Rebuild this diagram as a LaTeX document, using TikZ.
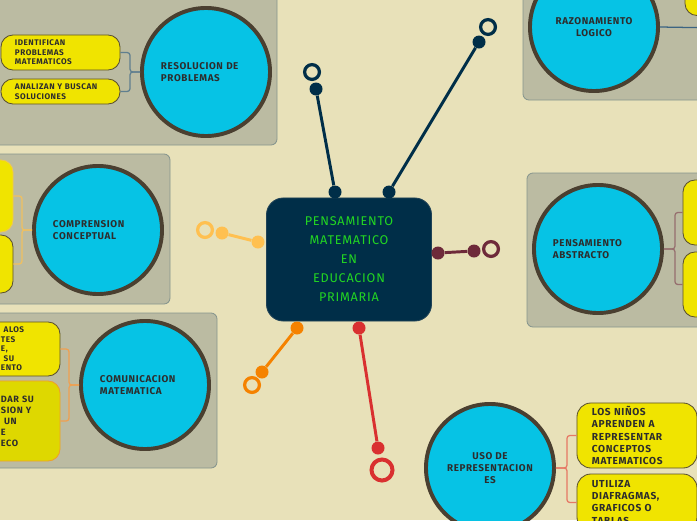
\documentclass[tikz,border=0pt]{standalone}
\usepackage{fontspec}
\setmainfont{Fira Sans}[LetterSpace=6]
\usepackage{xcolor}
\usepackage{tikz}
\usetikzlibrary{positioning}
\definecolor{bgcream}{RGB}{232,225,185}
\definecolor{panelgray}{RGB}{187,187,162}
\definecolor{panelline}{RGB}{135,150,142}
\definecolor{topiccyan}{RGB}{6,195,229}
\definecolor{topicrim}{RGB}{74,63,48}
\definecolor{labelink}{RGB}{45,45,45}
\definecolor{ideayellow}{RGB}{240,228,0}
\definecolor{ideadark}{RGB}{222,216,0}
\definecolor{idearim}{RGB}{90,80,48}
\definecolor{ideaorange}{RGB}{240,160,40}
\definecolor{idealight}{RGB}{240,200,80}
\definecolor{navy}{RGB}{0,46,72}
\definecolor{mintgreen}{RGB}{34,214,34}
\definecolor{sunyellow}{RGB}{255,192,80}
\definecolor{wine}{RGB}{110,42,58}
\definecolor{tangerine}{RGB}{245,130,0}
\definecolor{crimson}{RGB}{217,48,48}
\definecolor{slate}{RGB}{95,127,143}
\definecolor{steel}{RGB}{60,100,130}
\definecolor{peach}{RGB}{240,192,96}
\definecolor{apricot}{RGB}{240,160,80}
\definecolor{mauve}{RGB}{150,110,110}
\definecolor{salmon}{RGB}{230,120,100}
\tikzset{
  panel/.style   = {fill=panelgray, draw=panelline, line width=0.6pt, rounded corners=0.15cm},
  topic/.style   = {circle, draw=topicrim, fill=topiccyan, line width=2.8pt, minimum size=3.2cm,
                    inner sep=0pt, text=labelink, font=\fontsize{7}{8.5}\selectfont\bfseries},
  topicL/.style  = {topic, text width=2.25cm, align=left},
  topicC/.style  = {topic, align=center},
  idea/.style    = {rectangle, draw=idearim, fill=ideayellow, line width=0.6pt, rounded corners=0.3cm,
                    inner sep=0pt, align=left, text=labelink, font=\fontsize{5.8}{6.8}\selectfont\bfseries},
  ideaB/.style   = {idea, rounded corners=0.35cm, font=\fontsize{7.2}{8.6}\selectfont\bfseries},
  hub/.style     = {rectangle, fill=navy, draw=navy!75!gray, line width=0.6pt, rounded corners=0.42cm,
                    minimum width=4.125cm, minimum height=3.075cm, align=center, text=mintgreen,
                    font=\fontsize{9}{13.5}\selectfont},
  brk/.style     = {draw=#1, line width=0.9pt, rounded corners=2pt},
  twig/.style    = {draw=#1, line width=2.1pt},
  twigdot/.style = {circle, fill=#1, minimum size=0.325cm, inner sep=0pt},
  twigring/.style= {circle, draw=#1, line width=2.3pt, minimum size=0.37cm, inner sep=0pt},
}
\begin{document}
\begin{tikzpicture}[x=0.025cm, y=-0.025cm]

    \useasboundingbox (0,0) rectangle (697,520);
    \clip (0,0) rectangle (697,520);
    \fill[bgcream] (0,0) rectangle (697,520);

    % panels
    \draw[panel] (-20,-20) rectangle (277,145);
    \draw[panel] (-20,154) rectangle (170,304);
    \draw[panel] (-20,313) rectangle (217,468);
    \draw[panel] (527,173) rectangle (720,327);
    \draw[panel] (523,-20) rectangle (720,100);

    % subtopics
    \node[topicL] (res)    at (206,72)  {RESOLUCION DE\\PROBLEMAS};
    \node[topicL] (comp)   at (98,230)  {COMPRENSION\\CONCEPTUAL};
    \node[topicL] (comun)  at (145,385) {COMUNICACION\\MATEMATICA};
    \node[topicL] (abstr)  at (598,249) {PENSAMIENTO\\ABSTRACTO};
    \node[topicC] (razon)  at (594,27)  {RAZONAMIENTO\\LOGICO};
    \node[topicC] (repres) at (490,468) {USO DE\\REPRESENTACION\\ES};

    % ideas
    \node[idea, minimum width=2.975cm, minimum height=0.875cm, text width=2.275cm] (idprob) at (60.5,52.5)
      {IDENTIFICAN\\PROBLEMAS\\MATEMATICOS};
    \node[idea, minimum width=2.975cm, minimum height=0.625cm, text width=2.275cm] (ansol) at (60.5,91.5)
      {ANALIZAN Y BUSCAN\\SOLUCIONES};

    \node[idea, draw=idealight, minimum width=1.825cm, minimum height=1.8cm] (compa) at (-23.5,196) {};
    \node[idea, minimum width=1.825cm, minimum height=1.45cm] (compb) at (-23.5,264) {};

    \node[idea, minimum width=1.825cm, minimum height=1.35cm, text width=1.125cm] (comuna) at (23.5,349)
      {\ ALOS\\TES\\E,\\\ SU\\ENTO};
    \node[idea, fill=ideadark, draw=ideaorange, minimum width=1.825cm, minimum height=2.0cm, text width=1.125cm,
          font=\fontsize{6.5}{7.8}\selectfont\bfseries] (comunb) at (23.5,421)
      {DAR SU\\SION Y\\\ UN\\E\\ECO};

    \node[idea, minimum width=2.5cm, minimum height=1.625cm] (abstra) at (733,212.5) {};
    \node[idea, minimum width=2.5cm, minimum height=1.625cm] (abstrb) at (733,284.5) {};

    \node[idea, minimum width=2.5cm, minimum height=1.375cm] (razona) at (735,-12) {};
    \coordinate (rzend) at (720,28);

    \node[ideaB, minimum width=3.0cm, minimum height=1.625cm, text width=2.25cm] (reprea) at (637,435.5)
      {LOS NIÑOS\\APRENDEN A\\REPRESENTAR\\CONCEPTOS\\MATEMATICOS};
    \node[ideaB, minimum width=3.0cm, minimum height=1.425cm, text width=2.25cm] (repreb) at (637,502.5)
      {UTILIZA\\DIAFRAGMAS,\\GRAFICOS O\\TABLAS};

    % brackets
    \draw[brk=slate]   (res.west) -- ++(-10,0) |- (idprob.east);
    \draw[brk=slate]   (res.west) -- ++(-10,0) |- (ansol.east);
    \draw[brk=peach]   (comp.west) -- ++(-10,0) |- (compa.east);
    \draw[brk=peach]   (comp.west) -- ++(-10,0) |- (compb.east);
    \draw[brk=apricot] (comun.west) -- ++(-10,0) |- (comuna.east);
    \draw[brk=apricot] (comun.west) -- ++(-10,0) |- (comunb.east);
    \draw[brk=mauve]   (abstr.east) -- ++(11,0) |- (abstra.west);
    \draw[brk=mauve]   (abstr.east) -- ++(11,0) |- (abstrb.west);
    \draw[brk=steel]   (razon.east) -- (rzend);
    \draw[brk=salmon]  (repres.east) -- ++(11,0) |- (reprea.west);
    \draw[brk=salmon]  (repres.east) -- ++(11,0) |- (repreb.west);

    % main topic
    \node[hub] (hub) at (349,259.5) {PENSAMIENTO\\MATEMATICO\\EN\\EDUCACION\\PRIMARIA};

    % branches
    \node[twigdot=navy] (nava) at (335,192) {};
    \node[twigdot=navy] (navb) at (316,89) {};
    \node[twigring=navy] (navr) at (312,72) {};
    \draw[twig=navy] (nava) -- (navb);

    \node[twigdot=navy] (nvsa) at (389,192) {};
    \node[twigdot=navy] (nvsb) at (479,42) {};
    \node[twigring=navy] (nvsr) at (488,27) {};
    \draw[twig=navy] (nvsa) -- (nvsb);

    \node[twigdot=sunyellow] (suna) at (258,242) {};
    \node[twigdot=sunyellow] (sunb) at (222,233) {};
    \node[twigring=sunyellow] (sunr) at (205,230) {};
    \draw[twig=sunyellow] (suna) -- (sunb);

    \node[twigdot=wine] (wina) at (438,253) {};
    \node[twigdot=wine] (winb) at (474,251) {};
    \node[twigring=wine] (winr) at (491,249) {};
    \draw[twig=wine] (wina) -- (winb);

    \node[twigdot=tangerine] (tana) at (297,328) {};
    \node[twigdot=tangerine] (tanb) at (262,372) {};
    \node[twigring=tangerine] (tanr) at (252,385) {};
    \draw[twig=tangerine] (tana) -- (tanb);

    \node[twigdot=crimson] (cria) at (359,328) {};
    \node[twigdot=crimson] (crib) at (378,448) {};
    \node[twigring=crimson, line width=2.85pt, minimum size=0.525cm] (crir) at (382,470) {};
    \draw[twig=crimson] (cria) -- (crib);

  \end{tikzpicture}
\end{document}
